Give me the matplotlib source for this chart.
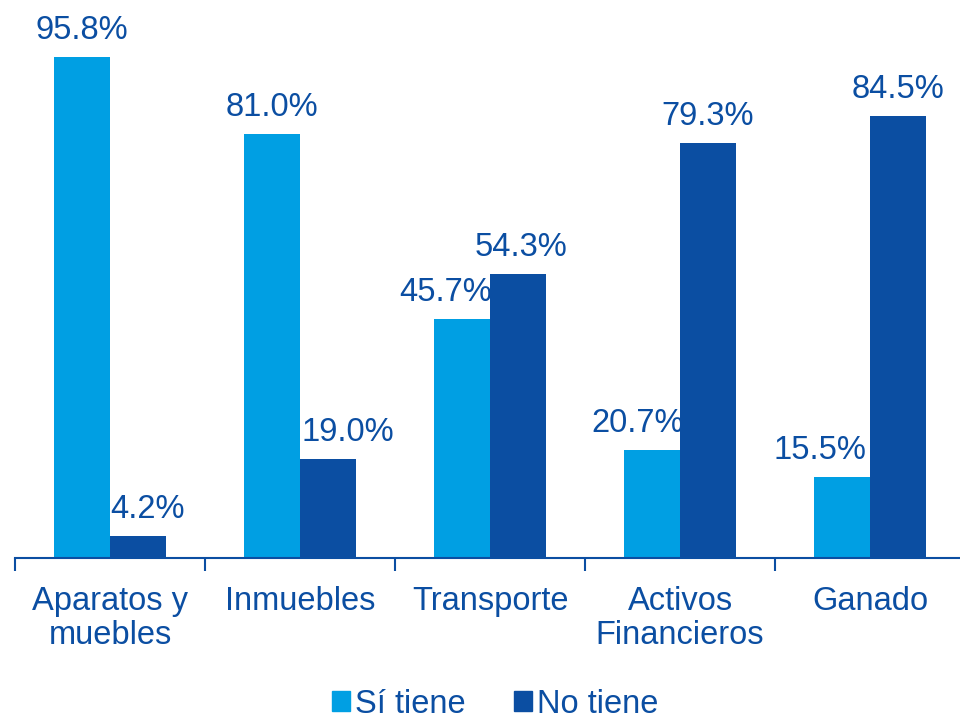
import matplotlib
matplotlib.use("Agg")
import matplotlib.pyplot as plt
import numpy as np
from matplotlib.patches import Patch

categories = ["Aparatos y\nmuebles", "Inmuebles", "Transporte", "Activos\nFinancieros", "Ganado"]
si_tiene = [95.8, 81.0, 45.7, 20.7, 15.5]
no_tiene = [4.2, 19.0, 54.3, 79.3, 84.5]
series_names = ["Sí tiene", "No tiene"]

# label horizontal offsets (points) as style
si_dx = [0, 0, -12, -10, -16]
no_dx = [7, 14, 2, 0, 0]

light = "#009FE3"
dark = "#0B4EA2"
txt = "#0B4EA2"
FS = 23.5

plt.rcParams['font.family'] = ['Liberation Sans', 'DejaVu Sans']

fig = plt.figure(figsize=(9.6, 7.2), dpi=100)
ax = fig.add_axes([15/960, 162/720, 950/960, 523/720])

x = np.arange(len(categories))
w = 0.295
b1 = ax.bar(x - w/2, si_tiene, w, color=light)
b2 = ax.bar(x + w/2, no_tiene, w, color=dark)

for rect, v, dx in zip(b1, si_tiene, si_dx):
    ax.annotate(f"{v:.1f}%", (rect.get_x() + rect.get_width()/2, v),
                xytext=(dx, 13), textcoords="offset points", ha="center",
                va="baseline", fontsize=FS, color=txt, annotation_clip=False)
for rect, v, dx in zip(b2, no_tiene, no_dx):
    ax.annotate(f"{v:.1f}%", (rect.get_x() + rect.get_width()/2, v),
                xytext=(dx, 13), textcoords="offset points", ha="center",
                va="baseline", fontsize=FS, color=txt, annotation_clip=False)

ax.set_xlim(-0.5, len(categories) - 0.5)
ax.set_ylim(0, 100)
for s in ["top", "right", "left"]:
    ax.spines[s].set_visible(False)
ax.spines["bottom"].set_color(dark)
ax.spines["bottom"].set_linewidth(1.5)
ax.set_yticks([])
ax.set_xticks(x)
ax.set_xticklabels(categories, fontsize=FS, color=txt, linespacing=1.12)
ax.tick_params(axis="x", which="major", length=0, pad=20)
ax.set_xticks(np.arange(-0.5, len(categories) + 0.5, 1), minor=True)
ax.tick_params(axis="x", which="minor", length=9, width=1.5, color=dark, direction="out")

handles = [Patch(color=light), Patch(color=dark)]
leg = fig.legend(handles, series_names, loc="center", bbox_to_anchor=(0.516, 0.022),
                 ncol=2, frameon=False, fontsize=FS, handlelength=0.55, handleheight=0.55,
                 handletextpad=0.15, columnspacing=1.5, borderaxespad=0, borderpad=0)
for t in leg.get_texts():
    t.set_color(txt)

fig.savefig("out.png", dpi=100)
